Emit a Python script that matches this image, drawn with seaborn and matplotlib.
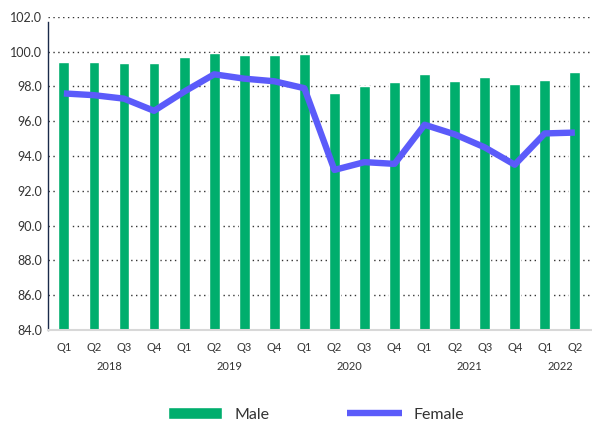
import matplotlib
matplotlib.use("Agg")
import matplotlib.pyplot as plt
import seaborn as sns
import pandas as pd
import numpy as np

quarters = ["Q1", "Q2", "Q3", "Q4", "Q1", "Q2", "Q3", "Q4", "Q1", "Q2", "Q3", "Q4",
            "Q1", "Q2", "Q3", "Q4", "Q1", "Q2"]
years = ["2018", "2019", "2020", "2021", "2022"]
year_of = ["2018"] * 4 + ["2019"] * 4 + ["2020"] * 4 + ["2021"] * 4 + ["2022"] * 2
male = [99.4, 99.4, 99.35, 99.35, 99.7, 99.93, 99.8, 99.8, 99.87,
        97.6, 98.0, 98.25, 98.7, 98.3, 98.55, 98.15, 98.4, 98.83]
female = [97.6, 97.5, 97.3, 96.6, 97.7, 98.7, 98.45, 98.3, 97.9,
          93.2, 93.65, 93.55, 95.8, 95.25, 94.5, 93.5, 95.3, 95.35]

periods = [f"{y} {q}" for y, q in zip(year_of, quarters)]
df = pd.DataFrame({"period": periods, "Male": male, "Female": female})

sns.set_theme(style="white")
plt.rcParams['font.family'] = ['Lato', 'DejaVu Sans']

GREEN = "#00AE6D"
BLUE = "#5B5BFA"
TXT = "#333333"

fig = plt.figure(figsize=(5.92, 4.23), dpi=100)
ax = fig.add_axes([0.081, 0.22, 0.919, 0.74])

sns.barplot(data=df, x="period", y="Male", order=periods, color=GREEN,
            width=0.36, saturation=1, ax=ax, label="Male", zorder=2)
sns.lineplot(x=np.arange(len(periods)), y=df["Female"], color=BLUE, linewidth=4.6,
             ax=ax, label="Female", zorder=3, solid_capstyle="butt")

ax.set_ylim(84, 102)
ax.set_xlim(-0.53, 17.57)
yt = np.arange(84, 102.1, 2)
ax.set_yticks(yt)
ax.set_yticklabels([f"{v:.1f}" for v in yt], fontsize=9, color=TXT)
ax.yaxis.grid(True, linestyle=(0, (1, 2.5)), color="#333333", linewidth=1.0)
ax.set_axisbelow(True)
ax.set_xticks(np.arange(len(periods)))
ax.set_xticklabels(quarters, fontsize=8, color=TXT)
ax.tick_params(axis="x", length=0, pad=9)
ax.tick_params(axis="y", length=0, pad=4)
ax.set_xlabel("")
ax.set_ylabel("")

for s in ["top", "right"]:
    ax.spines[s].set_visible(False)
ax.spines["left"].set_color("#1a2a4a")
ax.spines["left"].set_linewidth(1.0)
ax.spines["left"].set_bounds(84, 101.7)
ax.spines["bottom"].set_color("#d8d8d8")
ax.spines["bottom"].set_linewidth(1.5)

# year labels
groups = {}
for i, y in enumerate(year_of):
    groups.setdefault(y, []).append(i)
for y in years:
    idx = groups[y]
    xc = (idx[0] + idx[-1]) / 2
    ax.text(xc, -0.118, y, transform=ax.get_xaxis_transform(), ha="center", va="center",
            fontsize=8, color=TXT)

handles, labels = ax.get_legend_handles_labels()
order = [labels.index("Male"), labels.index("Female")]
leg = ax.legend([handles[i] for i in order], [labels[i] for i in order],
                loc="center", bbox_to_anchor=(0.493, -0.27), ncol=2, frameon=False,
                fontsize=11.5, handlelength=3.4, columnspacing=4.9, handletextpad=0.75,
                borderpad=0.2)
for t in leg.get_texts():
    t.set_color(TXT)

fig.savefig("out.png", dpi=100)
